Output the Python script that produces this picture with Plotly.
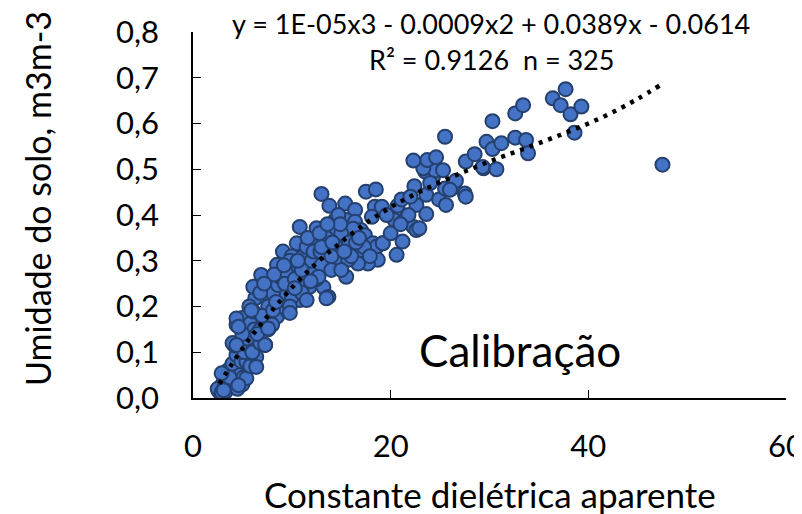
import plotly.graph_objects as go

# ---- data ----
x_vals = [
    # low cluster
    2.6, 2.8, 3.0, 3.3, 3.4, 3.1, 3.6, 3.8, 4.1, 4.4, 4.6, 5.0, 5.1, 5.4, 3.5, 4.0, 4.4, 4.9, 5.4, 5.8,
    4.2, 4.7, 5.2, 5.8, 6.4, 6.1, 4.4, 4.6, 5.0, 5.3, 5.8, 6.2, 6.8, 7.3, 7.6, 2.5, 2.9, 3.2, 3.9, 4.5,
    3.7, 6.0, 6.8, 4.0, 5.5, 6.5, 5.0, 2.9, 4.6, 3.1, 6.4, 4.4, 7.3, 4.4, 4.6,
    # middle-low
    6.1, 6.3, 6.6, 7.4, 7.8, 8.5, 9.1, 9.6, 10.8, 6.1, 7.4, 8.1, 8.6, 6.9, 8.5, 8.8, 9.8, 10.1, 10.8, 11.8,
    9.1, 10.5, 11.1, 10.8, 12.3, 12.5, 13.3, 13.8, 12.8, 12.0, 13.2, 13.7, 13.5, 7.6, 8.0, 9.0, 10.0, 11.2, 10.5, 9.5,
    12.0, 11.5, 7.0, 5.7, 6.8, 8.2, 9.3, 10.3, 11.0, 12.5, 13.0, 11.6, 10.0, 9.8, 9.8, 11.5, 8.1, 5.9, 7.6, 9.8,
    12.7, 11.0, 12.2, 10.3, 9.2, 8.4, 7.2, 11.9, 12.9, 10.6,
    # upper-middle
    13.0, 13.8, 15.4, 16.4, 14.4, 15.5, 16.4, 14.2, 15.2, 15.9, 16.9, 17.0, 17.4, 16.0, 18.2, 18.6, 18.7, 17.7, 16.7, 15.5,
    14.8, 15.7, 17.5, 18.5, 18.4, 18.1, 14.5, 13.5, 14.0, 16.2, 15.0, 14.7, 15.8, 17.3, 16.5, 13.0, 12.8, 14.0, 15.0, 16.0,
    19.2, 19.1, 14.9, 16.8, 13.6, 17.9, 15.3, 14.1,
    # upper
    20.6, 21.2, 19.2, 20.4, 21.4, 22.3, 22.6, 22.9, 20.7, 21.1, 22.6, 23.6, 22.4, 23.6, 24.9, 25.6, 25.5, 26.3, 27.5, 27.6,
    26.6, 24.3, 23.5, 24.5, 25.3, 23.3, 22.3, 23.7, 24.6, 25.5, 27.6, 28.5, 29.4, 20.0, 21.8, 24.0, 22.0, 19.6, 21.0, 26.0,
    # top right
    29.7, 30.3, 31.2, 29.3, 30.7, 30.3, 32.6, 33.4, 32.6, 33.7, 33.9, 36.4, 37.2, 37.7, 38.2, 39.3, 38.6, 47.5,
]
y_vals = [
    0.015, 0.020, 0.030, 0.014, 0.040, 0.050, 0.055, 0.065, 0.025, 0.054, 0.035, 0.030, 0.045, 0.043, 0.060, 0.075, 0.094, 0.080, 0.079, 0.070,
    0.115, 0.120, 0.100, 0.112, 0.090, 0.120, 0.160, 0.170, 0.175, 0.155, 0.163, 0.150, 0.149, 0.116, 0.150, 0.020, 0.012, 0.025, 0.030, 0.020,
    0.045, 0.100, 0.120, 0.120, 0.130, 0.140, 0.140, 0.054, 0.028, 0.017, 0.068, 0.116, 0.116, 0.174, 0.156,
    0.189, 0.218, 0.243, 0.221, 0.196, 0.178, 0.221, 0.189, 0.214, 0.243, 0.251, 0.229, 0.247, 0.269, 0.291, 0.265, 0.251, 0.280, 0.247, 0.243,
    0.320, 0.338, 0.309, 0.374, 0.342, 0.371, 0.316, 0.287, 0.276, 0.283, 0.242, 0.221, 0.218, 0.200, 0.160, 0.200, 0.220, 0.260, 0.290, 0.270,
    0.300, 0.330, 0.180, 0.200, 0.230, 0.270, 0.250, 0.260, 0.230, 0.260, 0.290, 0.350, 0.310, 0.300, 0.200, 0.214, 0.192, 0.192, 0.152, 0.186,
    0.265, 0.280, 0.320, 0.240, 0.290, 0.210, 0.250, 0.255, 0.320, 0.300,
    0.446, 0.420, 0.425, 0.411, 0.389, 0.389, 0.385, 0.360, 0.338, 0.331, 0.320, 0.367, 0.356, 0.353, 0.338, 0.331, 0.302, 0.294, 0.294, 0.265,
    0.302, 0.302, 0.451, 0.456, 0.418, 0.396, 0.330, 0.350, 0.310, 0.370, 0.360, 0.400, 0.340, 0.330, 0.340, 0.330, 0.360, 0.280, 0.280, 0.310,
    0.338, 0.418, 0.380, 0.350, 0.380, 0.310, 0.320, 0.340,
    0.313, 0.342, 0.338, 0.389, 0.389, 0.374, 0.367, 0.371, 0.420, 0.434, 0.422, 0.402, 0.463, 0.444, 0.434, 0.422, 0.458, 0.460, 0.447, 0.440,
    0.475, 0.484, 0.495, 0.497, 0.498, 0.502, 0.519, 0.520, 0.526, 0.571, 0.517, 0.533, 0.502, 0.360, 0.400, 0.470, 0.440, 0.400, 0.380, 0.455,
    0.560, 0.544, 0.557, 0.505, 0.500, 0.605, 0.622, 0.640, 0.569, 0.564, 0.535, 0.655, 0.640, 0.675, 0.620, 0.637, 0.580, 0.510,
]

# polynomial trendline
trend_x = [2.66, 5, 7.5, 10, 12.5, 15, 17.5, 20, 22.5, 25, 27.5, 30, 32.5, 35, 37.5, 40, 42.5, 45, 47.3]
trend_y = [0.031, 0.108, 0.178, 0.241, 0.295, 0.341, 0.382, 0.417, 0.446, 0.472, 0.495, 0.517, 0.537, 0.557, 0.578, 0.600, 0.625, 0.654, 0.684]

x_ticks = [0, 20, 40, 60]
equation_text = "y = 1E-05x3 - 0.0009x2 + 0.0389x - 0.0614"
r2_text = "R² = 0.9126  n = 325"
panel_label = "Calibração"
x_title = "Constante dielétrica aparente"
y_title = "Umidade do solo, m3m-3"

FONT = "Lato"

# page has an 8px body margin: figure is drawn at (8, 8) in the window
OFF = 8
W, H = 802 - OFF, 514 - OFF
# target plot-area edges in window pixels
X0, X1, Y0, Y1 = 193, 786, 32, 398
L, R, T, B = X0 - OFF, W - (X1 - OFF), Y0 - OFF, H - (Y1 - OFF)
PW, PH = W - L - R, H - T - B


def px(xw):
    return (xw - OFF - L) / PW


def py(yw):
    return (H - B - (yw - OFF)) / PH


fig = go.Figure()
fig.add_trace(go.Scatter(
    x=x_vals, y=y_vals, mode="markers",
    marker=dict(size=14, color="#4472C4", line=dict(color="#24406F", width=2)),
    hoverinfo="skip",
))
fig.add_trace(go.Scatter(
    x=trend_x, y=trend_y, mode="lines",
    line=dict(color="black", width=4.5, dash="4px,6px", shape="spline"),
    hoverinfo="skip",
))

axis_common = dict(
    showgrid=False, zeroline=False, showline=True, linecolor="black", linewidth=1.5,
    ticks="inside", ticklen=8, tickwidth=1.3, tickcolor="black",
    tickfont=dict(family=FONT, size=31, color="black"),
    automargin=False, ticklabeloverflow="allow",
)
fig.update_xaxes(range=[0, 60], tickvals=x_ticks, ticklabelstandoff=20, **axis_common)
fig.update_yaxes(range=[0, 0.8], dtick=0.1, tickformat=".1f", ticklabelstandoff=26, **axis_common)

fig.update_layout(
    width=W, height=H,
    margin=dict(l=L, r=R, t=T, b=B),
    plot_bgcolor="white", paper_bgcolor="white",
    showlegend=False, separators=",.",
    font=dict(family=FONT, color="black"),
    annotations=[
        dict(text=equation_text, xref="paper", yref="paper", x=px(491), y=py(24),
             showarrow=False, font=dict(size=27), xanchor="center", yanchor="middle"),
        dict(text=r2_text, xref="paper", yref="paper", x=px(491), y=py(60),
             showarrow=False, font=dict(size=27), xanchor="center", yanchor="middle"),
        dict(text=panel_label, xref="paper", yref="paper", x=px(520), y=py(350),
             showarrow=False, font=dict(size=44), xanchor="center", yanchor="middle"),
        dict(text=x_title, xref="paper", yref="paper", x=px(490), y=py(494),
             showarrow=False, font=dict(size=35), xanchor="center", yanchor="middle"),
        dict(text=y_title, xref="paper", yref="paper", x=px(38), y=py(199), textangle=-90,
             showarrow=False, font=dict(size=34), xanchor="center", yanchor="middle"),
    ],
)

fig.write_html("out.html")
